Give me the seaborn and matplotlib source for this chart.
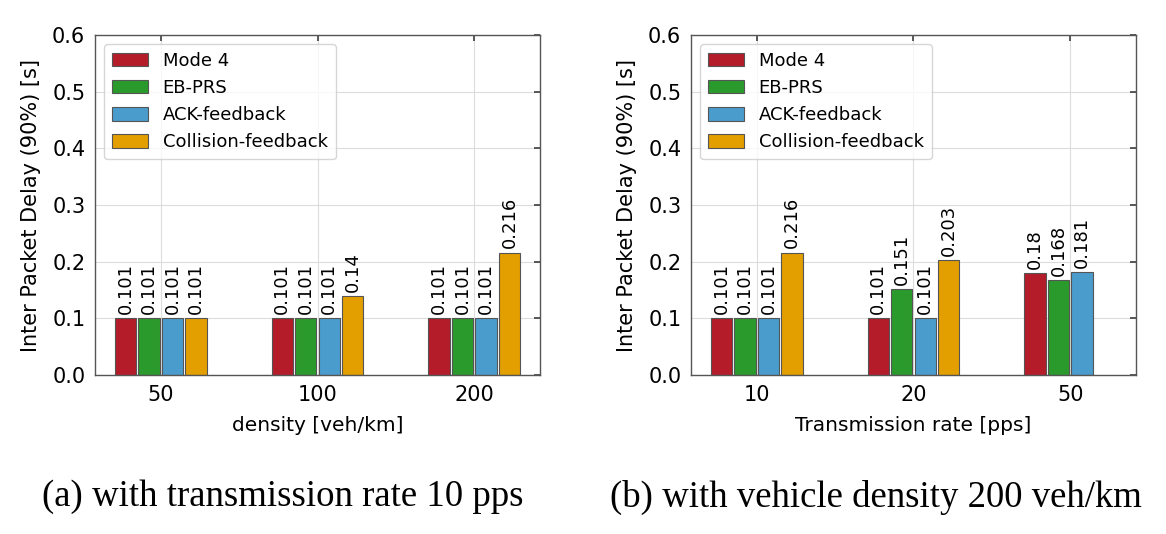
import matplotlib
matplotlib.use("Agg")
import matplotlib.pyplot as plt
import seaborn as sns
import pandas as pd
import numpy as np

schemes = ["Mode 4", "EB-PRS", "ACK-feedback", "Collision-feedback"]
colors = ["#b41c2a", "#2a9a2d", "#4a9ccc", "#e39f00"]

density_labels = ["50", "100", "200"]
density_mode4 = [0.101, 0.101, 0.101]
density_ebprs = [0.101, 0.101, 0.101]
density_ack = [0.101, 0.101, 0.101]
density_coll = [0.101, 0.14, 0.216]

rate_labels = ["10", "20", "50"]
rate_mode4 = [0.101, 0.101, 0.18]
rate_ebprs = [0.101, 0.151, 0.168]
rate_ack = [0.101, 0.101, 0.181]
rate_coll = [0.216, 0.203, np.nan]

yticks = [0.0, 0.1, 0.2, 0.3, 0.4, 0.5, 0.6]


def make_df(cats, series):
    rows = []
    for name, vals in zip(schemes, series):
        for c, v in zip(cats, vals):
            rows.append({"cat": c, "scheme": name, "value": v})
    return pd.DataFrame(rows)


sns.set_theme(style="white", rc={"text.color": "black", "axes.labelcolor": "black",
                                 "xtick.color": "black", "ytick.color": "black"})
plt.rcParams["font.family"] = ["DejaVu Sans"]

fig = plt.figure(figsize=(11.66, 5.34), dpi=100)
W, H = 1166, 534
ax1 = fig.add_axes([95 / W, (534 - 375) / H, 445 / W, 340 / H])
ax2 = fig.add_axes([691 / W, (534 - 375) / H, 445 / W, 340 / H])

panels = [
    (ax1, density_labels, [density_mode4, density_ebprs, density_ack, density_coll], "density [veh/km]"),
    (ax2, rate_labels, [rate_mode4, rate_ebprs, rate_ack, rate_coll], "Transmission rate [pps]"),
]

for ax, cats, series, xlabel in panels:
    df = make_df(cats, series)
    sns.barplot(data=df, x="cat", y="value", hue="scheme", hue_order=schemes,
                order=cats, palette=colors, saturation=1, width=0.6, gap=0.1, ax=ax,
                edgecolor="#555555", linewidth=0.8, errorbar=None, legend=True)
    for cont in ax.containers:
        ax.bar_label(cont, fmt="{:g}", rotation=90, padding=3, fontsize=13, color="black")
    ax.set_ylim(0, 0.6)
    ax.set_yticks(yticks)
    ax.set_yticklabels([f"{t:.1f}" for t in yticks])
    ax.set_xlim(-0.42, 2.42)
    ax.grid(True, color="#dcdcdc", linewidth=0.8)
    ax.set_axisbelow(True)
    ax.tick_params(direction="in", top=True, right=True, labelsize=15,
                   length=4, color="#444444", pad=7)
    for s in ax.spines.values():
        s.set_color("#555555")
        s.set_linewidth(1.0)
    ax.set_xlabel(xlabel, fontsize=14.5, labelpad=8)
    ax.set_ylabel("Inter Packet Delay (90%) [s]", fontsize=15, labelpad=8)
    leg = ax.legend(loc="upper left", fontsize=13, frameon=True, fancybox=True,
                    edgecolor="#cccccc", borderpad=0.45, handlelength=2.0,
                    handleheight=0.75, handletextpad=0.8, labelspacing=0.5,
                    borderaxespad=0.5, title=None)

fig.text(283 / W, 1 - 497 / H, "(a) with transmission rate 10 pps",
         ha="center", va="center", fontsize=26.5, family="Liberation Serif")
fig.text(876 / W, 1 - 497 / H, "(b) with vehicle density 200 veh/km",
         ha="center", va="center", fontsize=26.5, family="Liberation Serif")

fig.savefig("out.png", dpi=100)
